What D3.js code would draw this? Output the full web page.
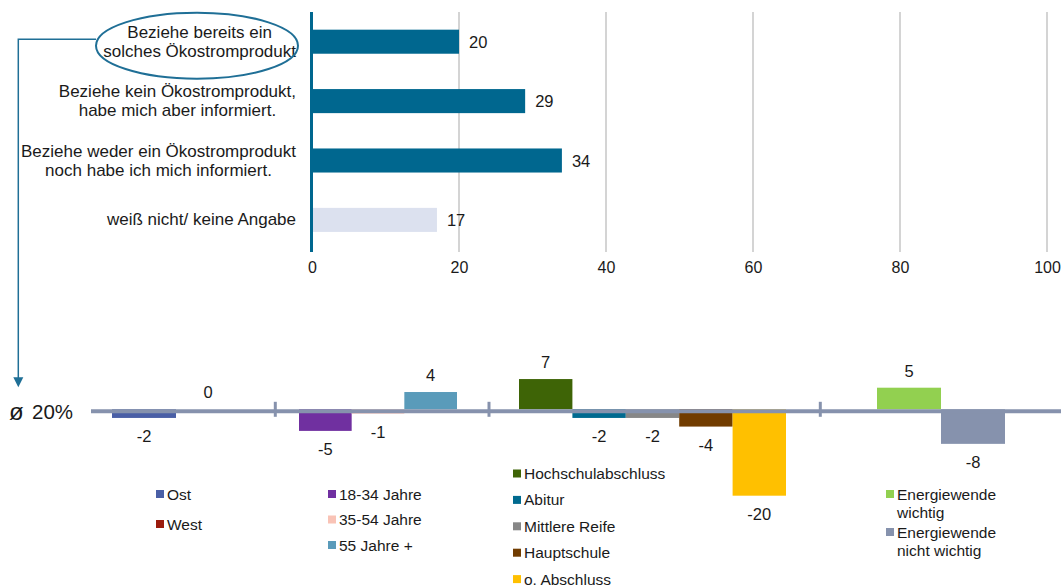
<!DOCTYPE html>
<html>
<head>
<meta charset="utf-8">
<script src="https://cdn.jsdelivr.net/npm/d3@7"></script>
<style>
  html, body { margin: 0; padding: 0; background: #fff; }
  svg { display: block; font-family: "Liberation Sans", Arial, Helvetica, sans-serif; }
</style>
</head>
<body>
<svg id="chart" width="1061" height="587"></svg>
<script>
// Survey answers (share in %)
const answerLabels = [
  "Beziehe bereits ein\nsolches Ökostromprodukt",
  "Beziehe kein Ökostromprodukt,\nhabe mich aber informiert.",
  "Beziehe weder ein Ökostromprodukt\nnoch habe ich mich informiert.",
  "weiß nicht/ keine Angabe"
];
const answerValues = [20, 29, 34, 17];
const answerTicks = [0, 20, 40, 60, 80, 100];

// Deviation from the average share of current green-power customers (percentage points)
const regionLabels = ["Ost", "West"];
const regionValues = [-2, 0];
const ageLabels = ["18-34 Jahre", "35-54 Jahre", "55 Jahre +"];
const ageValues = [-5, -1, 4];
const eduLabels = ["Hochschulabschluss", "Abitur", "Mittlere Reife", "Hauptschule", "o. Abschluss"];
const eduValues = [7, -2, -2, -4, -20];
const attitudeLabels = ["Energiewende\nwichtig", "Energiewende\nnicht wichtig"];
const attitudeValues = [5, -8];

const svg = d3.select("#chart");
const ink = "#1a1a1a";
const petrol = "#00678f";
const callout = "#1f6f96";

// ---------- upper chart: horizontal bars ----------
const x = d3.scaleLinear().domain([0, 100]).range([312, 1047]);
const y = d3.scaleBand().domain(answerLabels).range([12, 249.6])
  .paddingInner(0.595).paddingOuter(0.2975);
const plotTop = 12, plotBottom = 252;

// vertical gridlines
svg.append("g").selectAll("line").data(answerTicks.slice(1)).join("line")
  .attr("x1", d => x(d)).attr("x2", d => x(d))
  .attr("y1", plotTop).attr("y2", plotBottom)
  .attr("stroke", "#c6c6c6").attr("stroke-width", 1.5);

// tick labels
const xAxis = svg.append("g").attr("transform", `translate(0,${plotBottom})`)
  .call(d3.axisBottom(x).tickValues(answerTicks).tickSize(0).tickPadding(10).tickFormat(d3.format("d")));
xAxis.select(".domain").remove();
xAxis.selectAll("text").attr("font-size", 16).attr("fill", ink)
  .attr("font-family", "Liberation Sans, Arial, sans-serif");

// bars
const barColors = [petrol, petrol, petrol, "#dce1ef"];
svg.append("g").selectAll("rect").data(answerValues).join("rect")
  .attr("x", x(0)).attr("y", (d, i) => y(answerLabels[i]))
  .attr("width", d => x(d) - x(0)).attr("height", y.bandwidth())
  .attr("fill", (d, i) => barColors[i]);

// category axis line
svg.append("line").attr("x1", x(0) - 0.5).attr("x2", x(0) - 0.5)
  .attr("y1", plotTop).attr("y2", plotBottom)
  .attr("stroke", petrol).attr("stroke-width", 3);

// value labels
svg.append("g").selectAll("text").data(answerValues).join("text")
  .attr("x", d => x(d) + 10)
  .attr("y", (d, i) => y(answerLabels[i]) + y.bandwidth() / 2)
  .attr("dominant-baseline", "central")
  .attr("font-size", 16.5).attr("fill", ink)
  .text(d => d);

// category labels: wrapped lines centred within a right-aligned block
const labelRight = 296;
const lineGap = 19;
answerLabels.forEach((lab, i) => {
  const lines = lab.split("\n");
  const cy = y(lab) + y.bandwidth() / 2;
  const g = svg.append("g");
  const texts = lines.map((ln, k) => g.append("text")
    .attr("y", cy + (k - (lines.length - 1) / 2) * lineGap)
    .attr("dominant-baseline", "central")
    .attr("text-anchor", "middle")
    .attr("font-size", 17).attr("fill", ink)
    .text(ln));
  const w = d3.max(texts, t => t.node().getComputedTextLength());
  texts.forEach(t => t.attr("x", labelRight - w / 2));
});

// highlight ellipse around the first answer and connector down to the lower chart
const firstCy = y(answerLabels[0]) + y.bandwidth() / 2;
svg.append("ellipse")
  .attr("cx", 197).attr("cy", firstCy + 4).attr("rx", 101).attr("ry", 33)
  .attr("fill", "none").attr("stroke", callout).attr("stroke-width", 2);

// ---------- lower chart: deviations by group ----------
const yd = d3.scaleLinear().domain([-20, 10]).range([495.7, 366.1]);
const zeroY = yd(0);

const groups = [
  { labels: regionLabels, values: regionValues,
    colors: ["#4a5fa6", "#9b1b0c"], bars: [112, 240],
    legend: { x: 156, y: 494, step: 30 } },
  { labels: ageLabels, values: ageValues,
    colors: ["#7030a0", "#f9c3b6", "#5a9bba"], bars: [299, 457],
    legend: { x: 328, y: 494, step: 25.5 } },
  { labels: eduLabels, values: eduValues,
    colors: ["#3e6406", "#006a8f", "#878787", "#713c00", "#ffc000"], bars: [519, 786],
    legend: { x: 513, y: 473.5, step: 26.4 } },
  { labels: attitudeLabels, values: attitudeValues,
    colors: ["#92d050", "#8692ad"], bars: [877, 1005],
    legend: { x: 886, y: 494, step: 38 } }
];
const separators = [275.3, 489, 820.3];
const axisColor = "#8692ad";

groups.forEach(grp => {
  const xb = d3.scaleBand().domain(grp.labels).range(grp.bars).padding(0);
  const g = svg.append("g");
  g.selectAll("rect").data(grp.values).join("rect")
    .attr("x", (d, i) => xb(grp.labels[i]))
    .attr("width", xb.bandwidth())
    .attr("y", d => d >= 0 ? yd(d) : zeroY)
    .attr("height", d => Math.abs(yd(d) - zeroY))
    .attr("fill", (d, i) => grp.colors[i]);

  g.selectAll("text.val").data(grp.values).join("text").attr("class", "val")
    .attr("x", (d, i) => xb(grp.labels[i]) + xb.bandwidth() / 2)
    .attr("y", d => d >= 0 ? yd(d) - 17 : yd(d) + 18.5)
    .attr("text-anchor", "middle").attr("dominant-baseline", "central")
    .attr("font-size", 16.5).attr("fill", ink)
    .text(d => d);

  // legend
  const lg = svg.append("g");
  grp.labels.forEach((lab, i) => {
    const ly = grp.legend.y + i * grp.legend.step;
    lg.append("rect").attr("x", grp.legend.x).attr("y", ly - 4)
      .attr("width", 8).attr("height", 8).attr("fill", grp.colors[i]);
    lab.split("\n").forEach((ln, k) => {
      lg.append("text").attr("x", grp.legend.x + 11).attr("y", ly + k * 18.3)
        .attr("dominant-baseline", "central")
        .attr("font-size", 15.5).attr("fill", ink).text(ln);
    });
  });
});

// zero line (sits just below the bar origin) and group separators
svg.append("line").attr("x1", 91).attr("x2", 1061)
  .attr("y1", zeroY + 2).attr("y2", zeroY + 2)
  .attr("stroke", axisColor).attr("stroke-width", 4);
svg.append("g").selectAll("line").data(separators).join("line")
  .attr("x1", d => d).attr("x2", d => d)
  .attr("y1", zeroY - 7.5).attr("y2", zeroY + 7.5)
  .attr("stroke", axisColor).attr("stroke-width", 3);

// average label
const avg = svg.append("text").attr("y", zeroY + 2)
  .attr("dominant-baseline", "central").attr("fill", ink);
avg.append("tspan").attr("x", 9).attr("font-size", 24).text("ø");
avg.append("tspan").attr("x", 32).attr("font-size", 20.5).text(`${answerValues[0]}%`);

// connector from the ellipse to the average label
const arrowX = 18.3;
svg.append("path")
  .attr("d", `M${196 - 100},${firstCy - 2.5}H${arrowX}V${zeroY - 31}`)
  .attr("fill", "none").attr("stroke", callout).attr("stroke-width", 1.5);
svg.append("path")
  .attr("d", `M${arrowX - 5},${zeroY - 32}L${arrowX + 5},${zeroY - 32}L${arrowX},${zeroY - 22}Z`)
  .attr("fill", callout);
</script>
</body>
</html>
